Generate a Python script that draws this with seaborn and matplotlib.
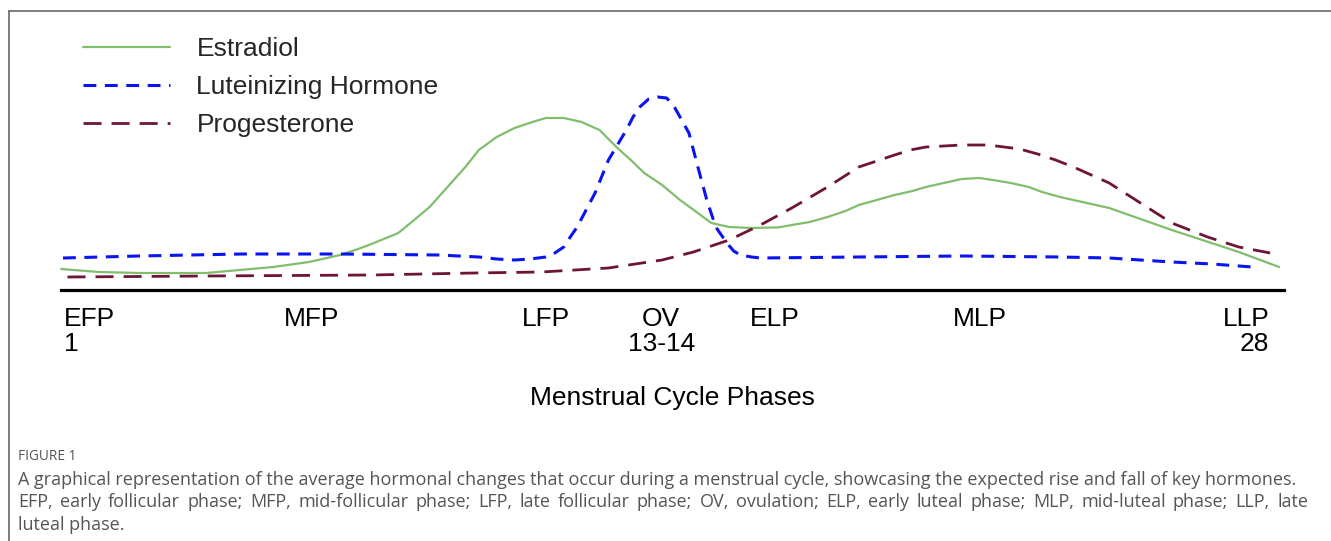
import matplotlib
matplotlib.use("Agg")
import numpy as np
import seaborn as sns
import matplotlib.pyplot as plt
from matplotlib.lines import Line2D

# cycle position (day) and relative hormone level
estradiol_day = [0.96, 1.8, 2.7, 4.2, 5.7, 6.5, 7.2, 7.6, 7.9, 8.5, 8.8, 9.2, 9.6, 10.0, 10.3,
                 10.7, 11.1, 11.5, 11.8, 12.2, 12.6, 13.0, 13.4, 13.7, 14.0, 14.4, 14.8, 15.2,
                 15.5, 15.9, 16.4, 17.0, 17.3, 17.7, 18.1, 18.5, 18.8, 19.2, 19.6, 20.0, 20.3,
                 20.7, 21.1, 21.5, 21.8, 22.2, 22.6, 22.9, 23.3, 23.8, 24.4, 25.8, 27.3, 28.2]
estradiol_level = [10.5, 9, 8.5, 8.5, 11.5, 14, 17.5, 20.5, 23, 28.5, 34, 41.5, 51.5, 61.5, 70,
                   76.5, 81, 84, 86, 86, 84, 80, 71, 65, 58.5, 52.5, 45, 38.5,
                   33.5, 31.5, 31, 31.3, 32.5, 34, 36.5, 39.5, 42.5, 45, 47.5, 49.5, 51.5,
                   53.5, 55.5, 56, 55, 53.5, 51.5, 49, 46.5, 44, 41, 30, 19, 11.5]

lh_day = [1.0, 2.7, 5.0, 7.2, 9.4, 10.3, 10.7, 11.1, 11.45, 11.8, 12.0, 12.2, 12.3, 12.5, 12.7,
          12.9, 13.2, 13.6, 13.75, 13.9, 14.1, 14.3, 14.5, 14.65, 14.8, 15.0, 15.2, 15.4, 15.6,
          15.85, 16.0, 16.15, 16.4, 16.6, 18.8, 21.1, 23.3, 24.4, 25.8, 26.7, 27.6]
lh_level = [16, 17, 18, 18, 17.5, 16.5, 15.5, 15, 15.5, 16.5, 18.5, 21.5, 25, 31.5, 40,
            48.5, 65, 80, 86.5, 91.5, 95.5, 96.5, 96, 92.5, 86.5, 78.5, 61.5, 45, 31.5,
            23.5, 19.5, 17.5, 16.5, 16, 16.5, 17, 16.5, 16, 14, 13, 11.5]

prog_day = [1.1, 4.2, 7.9, 10.2, 11.7, 13.2, 14.4, 15.1, 15.9, 16.6, 17.3, 18.1, 18.8, 19.6, 19.95,
            20.3, 20.7, 21.1, 21.7, 22.4, 22.8, 23.2, 23.6, 24.4, 25.1, 25.8, 26.6, 27.3, 28.0]
prog_level = [6.5, 7, 7.5, 8.5, 9, 11, 15, 19, 25, 32.5, 41, 51.5, 61.5, 67.5, 70,
              71.5, 72, 72.5, 72.5, 70.5, 68, 65, 61.5, 53.5, 43.5, 33.5, 26.5, 21.5, 18.5]

phase_pos = [1.02, 6.57, 11.8, 14.38, 16.93, 21.51, 27.98]
phase_names = ["EFP", "MFP", "LFP", "OV", "ELP", "MLP", "LLP"]
phase_days = ["1", "", "", "13-14", "", "", "28"]

caption_head = "FIGURE 1"
caption_lines = [
    "A graphical representation of the average hormonal changes that occur during a menstrual cycle, showcasing the expected rise and fall of key hormones.",
    "EFP, early follicular phase; MFP, mid-follicular phase; LFP, late follicular phase; OV, ovulation; ELP, early luteal phase; MLP, mid-luteal phase; LLP, late",
    "luteal phase.",
]

W, H = 1331, 541
sns.set_theme(style="white")
plt.rcParams["font.family"] = ["Liberation Sans", "DejaVu Sans"]

fig = plt.figure(figsize=(W / 100, H / 100), dpi=100)
ax = fig.add_axes([61 / W, 1 - 290 / H, (1284 - 61) / W, (290 - 20) / H])

sns.lineplot(x=estradiol_day, y=estradiol_level, ax=ax, color="#80bd6c", linewidth=1.6,
             sort=False, label="Estradiol", clip_on=False)
sns.lineplot(x=lh_day, y=lh_level, ax=ax, color="#0a14f0", linewidth=2.2,
             linestyle=(0, (4.2, 2.8)), sort=False, label="Luteinizing Hormone", clip_on=False)
sns.lineplot(x=prog_day, y=prog_level, ax=ax, color="#6e1438", linewidth=2.0,
             linestyle=(0, (6.5, 3.6)), sort=False, label="Progesterone", clip_on=False)
for ln in ax.lines:
    ln.set_solid_joinstyle("round")
    ln.set_dash_joinstyle("round")

ax.set_xlim(0.955, 28.31)
ax.set_ylim(0, 135)
for s in ["top", "right", "left"]:
    ax.spines[s].set_visible(False)
ax.spines["bottom"].set_color("black")
ax.spines["bottom"].set_linewidth(2.3)
ax.set_yticks([])

tick_labels = [n + ("\n" + d if d else "") for n, d in zip(phase_names, phase_days)]
ax.set_xticks(phase_pos, tick_labels)
ax.tick_params(axis="x", length=0, pad=12, labelsize=19, colors="black")
for i, t in enumerate(ax.get_xticklabels()):
    t.set_linespacing(1.05)
    t.set_verticalalignment("top")
    if i == 0:
        t.set_horizontalalignment("left")
    elif i == len(phase_pos) - 1:
        t.set_horizontalalignment("right")
ax.set_xlabel("Menstrual Cycle Phases", fontsize=19, labelpad=22, color="black")

leg = ax.legend(loc="upper left", bbox_to_anchor=(83 / W, 1 - 37 / H),
                bbox_transform=fig.transFigure, frameon=False, fontsize=19,
                handlelength=3.3, handletextpad=1.0, labelspacing=0.53,
                borderpad=0, borderaxespad=0)

# frame lines around the figure panel
fig.add_artist(Line2D([8.5 / W, 1], [1 - 11 / H, 1 - 11 / H], color="#666666", lw=1.2,
                      transform=fig.transFigure))
fig.add_artist(Line2D([8.5 / W, 8.5 / W], [0, 1 - 11 / H], color="#666666", lw=1.2,
                      transform=fig.transFigure))

cap_font = ["Open Sans", "DejaVu Sans"]
cap_size = 13
fig.text(18 / W, 1 - 457 / H, caption_head, fontsize=9.8, color="#555555",
         family=cap_font, va="center")
fig.text(18 / W, 1 - 480 / H, caption_lines[0], fontsize=cap_size, color="#555555",
         family=cap_font, va="center")
fig.text(18 / W, 1 - 525 / H, caption_lines[2], fontsize=cap_size, color="#555555",
         family=cap_font, va="center")

# justified second caption line
renderer = fig.canvas.get_renderer()
words = caption_lines[1].split(" ")
texts = [fig.text(0, 1 - 502 / H, w, fontsize=cap_size, color="#555555", family=cap_font,
                  va="center") for w in words]
widths = [t.get_window_extent(renderer).width for t in texts]
left, right = 18, 1308
gap = (right - left - sum(widths)) / (len(words) - 1)
x = left
for t, w in zip(texts, widths):
    t.set_x(x / W)
    x += w + gap

fig.savefig("out.png", dpi=100)
